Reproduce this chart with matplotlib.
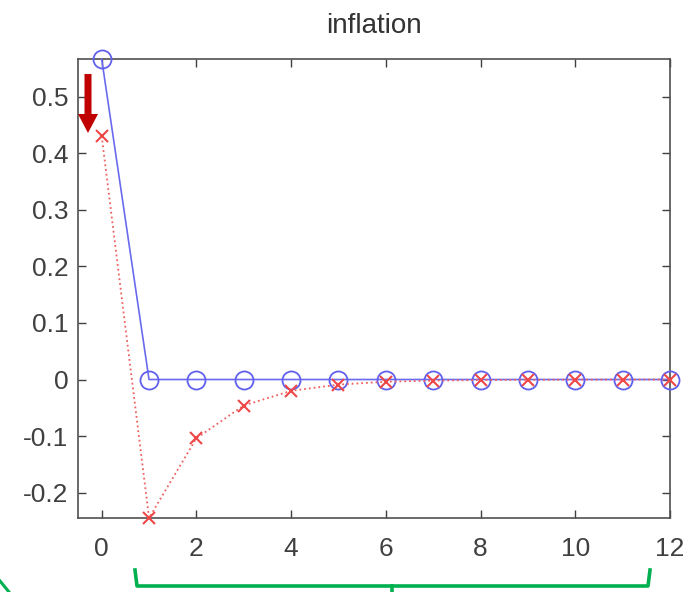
import numpy as np
import matplotlib
matplotlib.use('Agg')
import matplotlib.pyplot as plt
from matplotlib.lines import Line2D
from matplotlib.patches import Polygon

plt.rcParams['font.family'] = ['Liberation Sans', 'DejaVu Sans']

W, H = 694, 592

periods = [0, 1, 2, 3, 4, 5, 6, 7, 8, 9, 10, 11, 12]
infl_blue = [0.567, 0, 0, 0, 0, 0, 0, 0, 0, 0, 0, 0, 0]
infl_red = [0.431, -0.245, -0.104, -0.046, -0.020, -0.009, -0.004,
            -0.002, -0.001, -0.0005, -0.0002, -0.0001, 0.0]
xticks = [0, 2, 4, 6, 8, 10, 12]
yticks = [-0.2, -0.1, 0, 0.1, 0.2, 0.3, 0.4, 0.5]
ylabels = ['-0.2', '-0.1', '0', '0.1', '0.2', '0.3', '0.4', '0.5']

fig = plt.figure(figsize=(W / 100, H / 100), dpi=100)
ax = fig.add_axes([78 / W, 1 - 518 / H, (670 - 78) / W, (518 - 59) / H])

ax.plot(periods, infl_blue, '-', color='#6a6aee', lw=1.2, marker='o',
        markersize=13, markerfacecolor='none', markeredgecolor='#6060ee',
        markeredgewidth=1.3, clip_on=False, zorder=3)
ax.plot(periods, infl_red, ':', color='#f06060', lw=1.3, marker='x',
        markersize=9, markeredgecolor='#ee4848', markeredgewidth=1.5,
        clip_on=False, zorder=4)

ax.set_xlim(-0.5, 12)
ax.set_ylim(-0.245, 0.567)
ax.set_xticks(xticks)
ax.set_yticks(yticks)
ax.set_yticklabels(ylabels)
ax.tick_params(direction='in', top=True, right=True, length=6, width=1,
               labelsize=19, labelcolor='#404040', color='#404040', pad=7)
ax.tick_params(axis='x', pad=14)
for s in ax.spines.values():
    s.set_color('#505050')
    s.set_linewidth(1.2)
ax.set_title('inflation', fontsize=20, color='#333333', pad=19)

# red arrow (pixel outline, top-left origin)
cx = 88
arrow_px = [(cx - 3.5, 74), (cx + 3.5, 74), (cx + 3.5, 114), (cx + 10, 114),
            (cx, 133), (cx - 10, 114), (cx - 3.5, 114)]
fig.add_artist(Polygon([(x / W, 1 - y / H) for x, y in arrow_px],
                       closed=True, transform=fig.transFigure,
                       facecolor='#c00000', edgecolor='none'))

# green bracket under the axis
gx = np.array([135, 137, 648, 650]) / W
gy = np.array([22, 6, 6, 22]) / H
fig.add_artist(Line2D(gx, gy, transform=fig.transFigure, color='#00b050',
                      lw=2.6, solid_joinstyle='round'))
fig.add_artist(Line2D([392 / W, 392 / W], [6 / H, 0], transform=fig.transFigure,
                      color='#00b050', lw=2.6))
fig.add_artist(Line2D([0, 9 / W], [11 / H, 0], transform=fig.transFigure,
                      color='#00b050', lw=2.2))

fig.savefig('out.png', dpi=100)
